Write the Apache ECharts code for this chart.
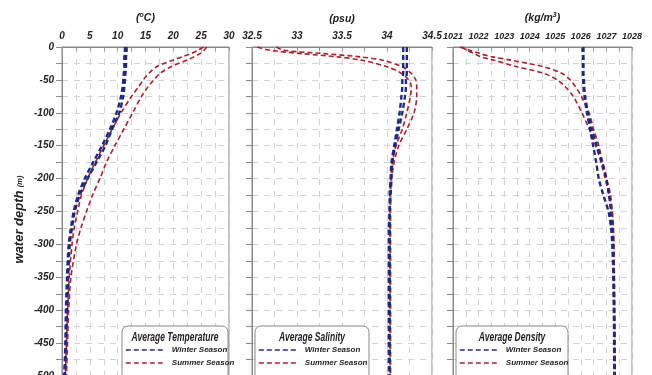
<!DOCTYPE html>
<html>
<head>
<meta charset="utf-8">
<script src="https://cdn.jsdelivr.net/npm/echarts@6/dist/echarts.min.js"></script>
<style>
  html, body { margin: 0; padding: 0; background: #fff; }
  #chart { width: 652px; height: 375px; }
</style>
</head>
<body>
<div id="chart"></div>
<script>
// depth of each sample (m, negative downwards)
const depth = [0, -5, -10, -15, -20, -30, -40, -50, -60, -75, -100, -125, -150, -175, -200, -225, -250, -275, -300, -350, -400, -450, -500]
const depthTicks = [0, -50, -100, -150, -200, -250, -300, -350, -400, -450, -500]

// temperature (oC)
const tempWinter1 = [11.6, 11.6, 11.6, 11.5, 11.5, 11.5, 11.4, 11.3, 11.2, 11.0, 10.3, 9.0, 7.8, 6.2, 4.6, 3.2, 2.3, 1.8, 1.4, 1.1, 0.9, 0.7, 0.5]
const tempWinter2 = [11.3, 11.3, 11.3, 11.2, 11.2, 11.2, 11.1, 11.0, 10.9, 10.6, 9.8, 8.6, 7.2, 5.6, 4.1, 2.9, 2.1, 1.6, 1.2, 0.9, 0.7, 0.6, 0.4]
const tempSummer1 = [25.4, 24.4, 23.2, 21.6, 19.9, 17.0, 15.6, 14.6, 13.8, 12.5, 10.6, 9.0, 7.5, 6.0, 4.6, 3.5, 2.8, 2.2, 1.8, 1.3, 1.0, 0.8, 0.6]
const tempSummer2 = [26.0, 25.5, 24.8, 23.7, 22.4, 19.6, 17.6, 16.5, 15.5, 14.3, 12.7, 11.1, 9.5, 8.0, 6.8, 5.5, 4.4, 3.4, 2.6, 1.6, 1.2, 1.0, 0.8]

// salinity (psu)
const salWinter1 = [34.22, 34.22, 34.22, 34.22, 34.22, 34.22, 34.22, 34.21, 34.21, 34.20, 34.17, 34.13, 34.09, 34.06, 34.05, 34.04, 34.03, 34.03, 34.03, 34.03, 34.03, 34.03, 34.03]
const salWinter2 = [34.18, 34.18, 34.18, 34.18, 34.18, 34.18, 34.18, 34.17, 34.17, 34.16, 34.14, 34.11, 34.08, 34.05, 34.04, 34.03, 34.03, 34.02, 34.02, 34.02, 34.02, 34.02, 34.02]
const salSummer1 = [32.56, 32.70, 33.05, 33.45, 33.72, 34.00, 34.16, 34.24, 34.27, 34.26, 34.22, 34.17, 34.10, 34.06, 34.04, 34.03, 34.03, 34.03, 34.03, 34.03, 34.03, 34.03, 34.03]
const salSummer2 = [32.77, 32.85, 33.30, 33.70, 33.95, 34.17, 34.27, 34.32, 34.33, 34.33, 34.30, 34.22, 34.13, 34.08, 34.05, 34.04, 34.04, 34.04, 34.04, 34.04, 34.04, 34.04, 34.04]

// density (kg/m3)
const denWinter1 = [1026.10, 1026.10, 1026.10, 1026.10, 1026.10, 1026.10, 1026.10, 1026.12, 1026.13, 1026.17, 1026.28, 1026.43, 1026.62, 1026.83, 1027.00, 1027.10, 1027.18, 1027.22, 1027.25, 1027.28, 1027.30, 1027.31, 1027.32]
const denWinter2 = [1026.08, 1026.08, 1026.08, 1026.08, 1026.08, 1026.08, 1026.08, 1026.09, 1026.10, 1026.14, 1026.24, 1026.36, 1026.48, 1026.60, 1026.70, 1026.88, 1027.08, 1027.18, 1027.23, 1027.27, 1027.29, 1027.30, 1027.31]
const denSummer1 = [1021.27, 1021.65, 1022.05, 1022.55, 1023.25, 1024.55, 1025.25, 1025.58, 1025.78, 1026.02, 1026.32, 1026.50, 1026.70, 1026.85, 1027.00, 1027.16, 1027.23, 1027.27, 1027.29, 1027.31, 1027.32, 1027.33, 1027.34]
const denSummer2 = [1021.33, 1021.55, 1021.82, 1022.10, 1022.60, 1023.50, 1024.55, 1025.08, 1025.38, 1025.70, 1026.04, 1026.33, 1026.58, 1026.78, 1026.95, 1027.10, 1027.22, 1027.27, 1027.29, 1027.31, 1027.32, 1027.33, 1027.34]

const winterColor = '#1f2a7c'
const summerColor = '#a3222f'
const font = '"Liberation Sans", Arial, sans-serif'
const gridColor = '#d2d2d2'

const chart = echarts.init(document.getElementById('chart'))

function pairs(vals) {
  return vals.map((v, i) => [v, depth[i]])
}

function line(name, vals, idx, color, width) {
  return {
    name: name,
    type: 'line',
    xAxisIndex: idx,
    yAxisIndex: idx,
    data: pairs(vals),
    smooth: 0.3,
    symbol: 'none',
    lineStyle: { color: color, width: width, type: [5, 3] },
    itemStyle: { color: color },
    z: color === winterColor ? 3 : 2
  }
}

const panels = [
  { left: 62, width: 167, min: 0, max: 30, interval: 5, fs: 10, name: '({s|o}C)' },
  { left: 252, width: 180, min: 32.5, max: 34.5, interval: 0.5, fs: 10, name: '(psu)' },
  { left: 453, width: 179, min: 1021, max: 1028, interval: 1, fs: 9, name: '(kg/m{s|3})' }
]

const nameRich = {
  s: { fontSize: 7, fontWeight: 'bold', fontStyle: 'italic', fontFamily: font, color: '#222', padding: [0, 0, 6, 0] }
}

const grid = panels.map(p => ({
  left: p.left, width: p.width, top: 47, height: 329,
  outerBoundsMode: 'none',
  containLabel: false,
  show: true, borderColor: '#888', borderWidth: 1, backgroundColor: '#fff'
}))

const xAxis = panels.map((p, i) => ({
  type: 'value',
  gridIndex: i,
  position: 'top',
  min: p.min, max: p.max, interval: p.interval,
  name: p.name,
  nameLocation: 'middle',
  nameGap: 22,
  nameTextStyle: { fontSize: 10.5, fontWeight: 'bold', fontStyle: 'italic', fontFamily: font, color: '#222', rich: nameRich },
  axisLine: { lineStyle: { color: '#888' } },
  axisTick: { show: true, inside: true, length: 4, lineStyle: { color: '#999' } },
  minorTick: { show: true, splitNumber: 2, length: 4, lineStyle: { color: '#999' } },
  axisLabel: {
    margin: 6, fontSize: p.fs, fontWeight: 'bold', fontStyle: 'italic', fontFamily: font, color: '#222',
    formatter: v => String(v)
  },
  splitLine: { show: true, lineStyle: { color: gridColor, type: [6, 6], width: 1 } },
  minorSplitLine: { show: true, lineStyle: { color: gridColor, type: [6, 6], width: 1 } }
}))

const yAxis = panels.map((p, i) => ({
  type: 'value',
  gridIndex: i,
  min: -500, max: 0, interval: 50,
  name: i === 0 ? '{a|water depth} {b|(m)}' : '',
  nameLocation: 'middle',
  nameGap: 36,
  nameRotate: 90,
  nameTextStyle: {
    padding: [0, 16, 0, 0],
    rich: {
      a: { fontSize: 13, fontWeight: 'bold', fontStyle: 'italic', fontFamily: font, color: '#222' },
      b: { fontSize: 7.5, fontWeight: 'bold', fontStyle: 'italic', fontFamily: font, color: '#222' }
    }
  },
  axisLine: { show: true, lineStyle: { color: '#888' } },
  axisTick: { show: true, length: 6, lineStyle: { color: '#888' } },
  minorTick: { show: true, splitNumber: 2, length: 6, lineStyle: { color: '#888' } },
  axisLabel: {
    show: i === 0, margin: 8, fontSize: 10, fontWeight: 'bold', fontStyle: 'italic', fontFamily: font, color: '#222',
    formatter: v => depthTicks.indexOf(v) >= 0 ? String(v) : ''
  },
  splitLine: { show: true, lineStyle: { color: gridColor, type: [6, 6], width: 1 } },
  minorSplitLine: { show: true, lineStyle: { color: gridColor, type: [6, 6], width: 1 } }
}))

const series = [
  line('Winter Season', tempWinter1, 0, winterColor, 2.4),
  line('Winter Season', tempWinter2, 0, winterColor, 2.4),
  line('Summer Season', tempSummer1, 0, summerColor, 1.6),
  line('Summer Season', tempSummer2, 0, summerColor, 1.6),
  line('Winter Season', salWinter1, 1, winterColor, 2.4),
  line('Winter Season', salWinter2, 1, winterColor, 2.4),
  line('Summer Season', salSummer1, 1, summerColor, 1.6),
  line('Summer Season', salSummer2, 1, summerColor, 1.6),
  line('Winter Season', denWinter1, 2, winterColor, 2.4),
  line('Winter Season', denWinter2, 2, winterColor, 2.4),
  line('Summer Season', denSummer1, 2, summerColor, 1.6),
  line('Summer Season', denSummer2, 2, summerColor, 1.6)
]

// legend boxes: [box left, box width, title]
const boxes = [
  [122, 106, 'Average Temperature'],
  [255, 114, 'Average Salinity'],
  [456, 112, 'Average Density']
]

const legend = boxes.map(b => ({
  data: ['Winter Season', 'Summer Season'],
  orient: 'vertical',
  left: b[0] + 3,
  top: 346,
  itemWidth: 38,
  itemHeight: 8,
  itemGap: 5,
  padding: [0, 0, 0, 0],
  z: 120,
  selectedMode: false,
  itemStyle: { opacity: 0 },
  lineStyle: { width: 1.6 },
  textStyle: { fontSize: 8, fontWeight: 'bold', fontStyle: 'italic', fontFamily: font, color: '#222', padding: [0, 0, 0, 3] }
}))

const graphic = []
boxes.forEach(b => {
  graphic.push({
    type: 'rect', z: 100,
    shape: { x: b[0], y: 326, width: b[1], height: 60, r: 6 },
    style: { fill: '#fff', stroke: '#888', lineWidth: 1 }
  })
  graphic.push({
    type: 'text', z: 110,
    x: b[0] + b[1] / 2, y: 338,
    scaleX: 0.68,
    style: {
      text: b[2], align: 'center', verticalAlign: 'middle',
      font: 'italic bold 12.5px ' + font, fill: '#222'
    }
  })
})

chart.setOption({
  animation: false,
  backgroundColor: '#fff',
  grid: grid,
  xAxis: xAxis,
  yAxis: yAxis,
  legend: legend,
  graphic: graphic,
  series: series
})
</script>
</body>
</html>
